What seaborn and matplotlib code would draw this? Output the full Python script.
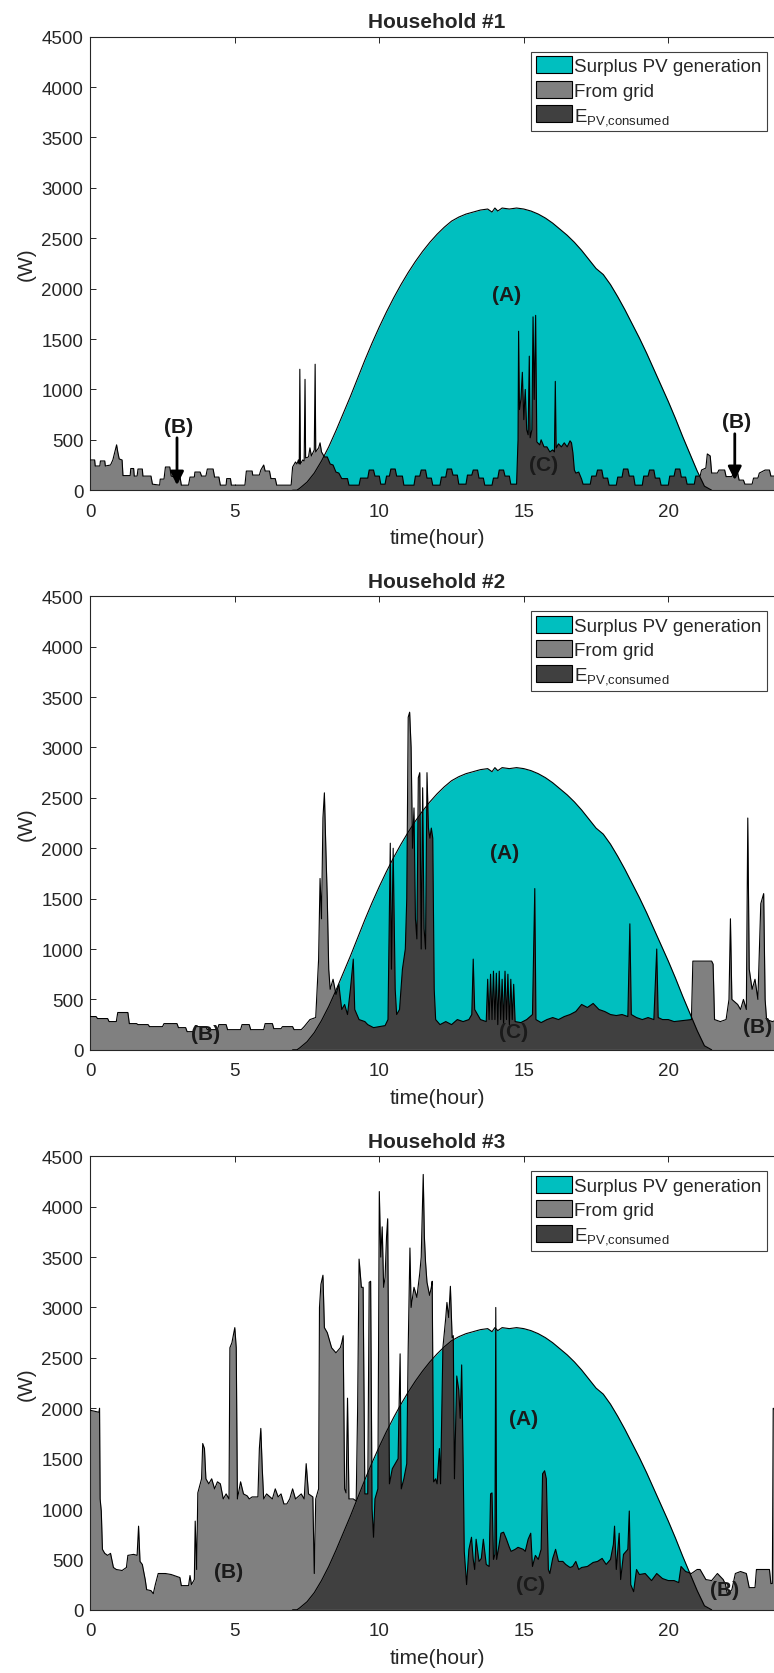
import matplotlib
matplotlib.use("Agg")
import matplotlib.pyplot as plt
import matplotlib.patches as mpatches
import seaborn as sns

# PV generation (same curve for every household), hour / W
PV_T = [7.0, 7.15, 7.25, 7.5, 7.75, 8.0, 8.25, 8.5, 8.75, 9.0, 9.25, 9.5, 9.75, 10.0, 10.25,
        10.5, 10.75, 11.0, 11.25, 11.5, 11.75, 12.0, 12.25, 12.5, 12.75, 13.0, 13.25, 13.5,
        13.75, 13.9, 14.0, 14.1, 14.25, 14.5, 14.75, 15.0, 15.25, 15.5, 15.75, 16.0, 16.25,
        16.5, 16.75, 17.0, 17.25, 17.5, 17.75, 18.0, 18.25, 18.5, 18.75, 19.0, 19.25, 19.5,
        19.75, 20.0, 20.25, 20.5, 20.75, 21.0, 21.25, 21.5]
PV_W = [0, 0, 20, 80, 170, 290, 430, 590, 760, 930, 1110, 1290, 1460, 1620, 1770,
        1910, 2040, 2160, 2270, 2370, 2460, 2540, 2610, 2670, 2710, 2740, 2760, 2780,
        2790, 2760, 2800, 2770, 2800, 2790, 2800, 2790, 2770, 2740, 2700, 2650, 2590,
        2530, 2460, 2380, 2290, 2200, 2140, 2040, 1920, 1790, 1650, 1510, 1360, 1200,
        1040, 880, 710, 530, 360, 190, 40, 0]

# household load profiles, hour / W
H1_T = [0.0, 0.15, 0.17, 0.33, 0.35, 0.5, 0.52, 0.7, 0.78, 0.85, 0.91, 0.95, 1.0, 1.1, 1.13,
        1.38, 1.4, 1.5, 1.52, 1.62, 1.65, 1.8, 1.82, 2.1, 2.15, 2.4, 2.42, 2.55, 2.6, 2.75,
        2.8, 2.95, 3.1, 3.15, 3.4, 3.45, 3.6, 3.62, 3.8, 3.85, 4.0, 4.05, 4.25, 4.3, 4.45,
        4.5, 4.7, 4.72, 4.85, 4.88, 5.35, 5.4, 5.6, 5.62, 5.85, 5.9, 6.0, 6.05, 6.2, 6.25,
        6.4, 6.45, 6.95, 7.0, 7.1, 7.15, 7.2, 7.23, 7.25, 7.27, 7.35, 7.4, 7.43, 7.45, 7.55,
        7.6, 7.65, 7.75, 7.78, 7.8, 7.9, 7.95, 8.0, 8.1, 8.2, 8.3, 8.4, 8.5, 8.6, 8.7,
        8.9, 8.95, 9.3, 9.35, 9.6, 9.65, 9.8, 9.85, 10.0, 10.05, 10.2, 10.25, 10.35, 10.4,
        10.55, 10.6, 10.8, 10.85, 11.2, 11.25, 11.4, 11.45, 11.6, 11.65, 11.8, 11.85, 12.1,
        12.15, 12.3, 12.35, 12.5, 12.55, 12.7, 12.75, 13.0, 13.05, 13.2, 13.25, 13.4, 13.45,
        13.6, 13.65, 13.9, 13.95, 14.1, 14.15, 14.3, 14.35, 14.5, 14.55, 14.75, 14.8, 14.82,
        14.85, 14.9, 14.95, 15.0, 15.05, 15.1, 15.15, 15.19, 15.22, 15.28, 15.32, 15.36,
        15.41, 15.45, 15.55, 15.6, 15.7, 15.8, 15.9, 16.0, 16.06, 16.09, 16.12, 16.2, 16.3,
        16.4, 16.5, 16.6, 16.65, 16.7, 16.75, 16.8, 16.9, 17.0, 17.05, 17.3, 17.35, 17.5,
        17.55, 17.7, 17.75, 17.9, 17.95, 18.2, 18.25, 18.4, 18.45, 18.6, 18.65, 18.8, 18.85,
        19.1, 19.15, 19.3, 19.35, 19.5, 19.55, 19.7, 19.75, 20.0, 20.05, 20.2, 20.25, 20.4,
        20.45, 20.6, 20.65, 20.9, 20.95, 21.1, 21.15, 21.3, 21.35, 21.45, 21.5, 21.7, 21.75,
        21.95, 22.0, 22.2, 22.25, 22.4, 22.45, 22.6, 22.65, 22.9, 22.95, 23.1, 23.15, 23.35,
        23.5, 23.55, 23.75, 23.8, 24.0]
H1_W = [300, 300, 240, 240, 290, 290, 240, 250, 300, 380, 450, 380, 310, 300, 145,
        145, 215, 215, 140, 140, 210, 210, 140, 140, 60, 50, 110, 110, 230, 230,
        140, 130, 140, 50, 50, 130, 130, 180, 180, 140, 140, 210, 210, 130, 130,
        50, 50, 115, 115, 50, 50, 190, 190, 150, 150, 200, 250, 190, 190, 115,
        115, 50, 50, 230, 280, 260, 300, 260, 1200, 260, 300, 290, 1100, 320, 330,
        420, 340, 400, 1250, 380, 420, 470, 380, 330, 330, 260, 250, 180, 170, 115,
        115, 50, 50, 120, 120, 200, 200, 140, 140, 60, 60, 140, 140, 210,
        210, 140, 140, 50, 50, 140, 140, 200, 200, 120, 120, 50, 50,
        130, 130, 210, 210, 150, 150, 60, 60, 150, 150, 200, 200, 120,
        120, 50, 50, 120, 120, 200, 200, 140, 140, 60, 60, 500, 1577,
        800, 900, 1170, 700, 1000, 600, 550, 1330, 520, 600, 1720, 900,
        1735, 480, 450, 500, 430, 430, 380, 400, 380, 1080, 420, 460, 430,
        470, 430, 490, 470, 370, 200, 170, 180, 110, 60, 60, 140, 140,
        200, 200, 120, 120, 50, 50, 130, 130, 210, 210, 140, 140, 50,
        50, 140, 140, 200, 200, 120, 120, 50, 50, 140, 140, 210, 210,
        130, 130, 60, 60, 140, 140, 200, 220, 360, 340, 170, 170, 200,
        200, 135, 135, 170, 170, 100, 100, 60, 60, 120, 120, 170, 200,
        200, 140, 140, 200, 200]

H2_T = [0.0, 0.2, 0.25, 0.6, 0.65, 0.9, 0.95, 1.3, 1.35, 1.6, 1.65, 2.0, 2.05, 2.5, 2.55,
        3.0, 3.05, 3.3, 3.35, 3.6, 3.65, 4.0, 4.05, 4.4, 4.45, 4.7, 4.75, 5.2, 5.25, 5.5,
        5.55, 6.0, 6.05, 6.3, 6.35, 6.6, 6.65, 7.0, 7.05, 7.3, 7.4, 7.6, 7.8, 7.9, 7.95,
        8.0, 8.05, 8.1, 8.15, 8.2, 8.25, 8.3, 8.4, 8.5, 8.6, 8.7, 8.8, 8.9, 9.0, 9.1, 9.15,
        9.3, 9.5, 9.6, 9.8, 10.0, 10.2, 10.3, 10.38, 10.42, 10.48, 10.55, 10.6, 10.7, 10.8,
        10.9, 10.95, 11.0, 11.05, 11.1, 11.15, 11.2, 11.25, 11.3, 11.35, 11.4, 11.45, 11.5,
        11.55, 11.6, 11.65, 11.7, 11.75, 11.8, 11.85, 11.9, 11.95, 12.1, 12.3, 12.5, 12.7,
        12.9, 13.1, 13.2, 13.25, 13.3, 13.5, 13.7, 13.75, 13.8, 13.85, 13.9, 13.95, 14.0,
        14.05, 14.1, 14.15, 14.2, 14.25, 14.3, 14.35, 14.4, 14.45, 14.5, 14.55, 14.6, 14.65,
        14.7, 14.9, 15.1, 15.3, 15.38, 15.42, 15.6, 15.8, 16.0, 16.2, 16.4, 16.6, 16.8,
        17.0, 17.2, 17.4, 17.6, 17.8, 18.0, 18.2, 18.4, 18.6, 18.67, 18.72, 18.9, 19.1,
        19.3, 19.5, 19.6, 19.65, 19.8, 20.0, 20.2, 20.5, 20.8, 20.85, 21.5, 21.55, 21.6,
        21.8, 22.0, 22.1, 22.15, 22.2, 22.4, 22.5, 22.6, 22.7, 22.75, 22.8, 22.9, 23.0,
        23.1, 23.2, 23.3, 23.35, 23.4, 23.6, 23.8, 24.0]
H2_W = [330, 330, 310, 310, 280, 280, 370, 370, 260, 260, 250, 250, 230, 230, 260,
        260, 220, 220, 180, 180, 230, 230, 200, 200, 250, 250, 200, 200, 250, 250,
        200, 200, 260, 260, 210, 210, 230, 230, 200, 200, 230, 300, 320, 900, 1700,
        1300, 2300, 2550, 2000, 1500, 800, 600, 700, 550, 650, 400, 450, 350, 600, 900, 400,
        300, 280, 250, 220, 230, 240, 300, 2050, 800, 2000, 600, 350, 400, 800,
        1000, 1500, 3300, 3350, 3000, 2000, 2400, 1300, 1100, 2700, 2750, 1000, 2600,
        1200, 1000, 2750, 2200, 2100, 2200, 2100, 600, 300, 250, 280, 250, 300,
        280, 300, 350, 900, 400, 300, 280, 700, 300, 750, 300, 780, 300,
        760, 250, 780, 300, 700, 250, 780, 300, 750, 250, 700, 300, 650,
        280, 270, 300, 350, 1600, 300, 270, 300, 320, 300, 330, 350, 380,
        450, 420, 460, 400, 380, 350, 340, 350, 330, 1250, 350, 320, 300,
        320, 300, 1000, 320, 300, 300, 280, 290, 300, 880, 880, 850, 300,
        280, 300, 500, 1300, 500, 450, 400, 500, 400, 2300, 800, 600, 700,
        500, 1450, 1550, 500, 300, 280, 300, 300]

H3_T = [0.0, 0.3, 0.32, 0.34, 0.38, 0.42, 0.5, 0.6, 0.7, 0.8, 0.9, 1.1, 1.25, 1.3, 1.5,
        1.62, 1.67, 1.72, 1.8, 1.9, 1.95, 2.1, 2.18, 2.25, 2.35, 2.6, 2.8, 3.0, 3.1, 3.15,
        3.4, 3.45, 3.5, 3.6, 3.63, 3.68, 3.72, 3.85, 3.89, 3.95, 4.0, 4.1, 4.2, 4.3, 4.4,
        4.5, 4.6, 4.7, 4.8, 4.83, 4.9, 5.0, 5.05, 5.09, 5.2, 5.3, 5.43, 5.5, 5.6, 5.8,
        5.85, 5.9, 5.95, 6.0, 6.1, 6.3, 6.4, 6.5, 6.6, 6.7, 6.8, 6.9, 7.0, 7.1, 7.3, 7.4,
        7.47, 7.55, 7.7, 7.75, 7.8, 7.9, 7.93, 7.98, 8.05, 8.1, 8.2, 8.35, 8.5, 8.65, 8.7,
        8.75, 8.8, 8.85, 8.9, 8.95, 9.1, 9.2, 9.25, 9.3, 9.38, 9.44, 9.5, 9.6, 9.65, 9.7,
        9.75, 9.8, 9.85, 9.95, 10.0, 10.05, 10.1, 10.15, 10.2, 10.25, 10.29, 10.35, 10.45,
        10.55, 10.65, 10.72, 10.76, 10.85, 10.95, 11.0, 11.06, 11.1, 11.14, 11.2, 11.3,
        11.4, 11.45, 11.52, 11.56, 11.6, 11.65, 11.74, 11.8, 11.83, 11.88, 11.95, 12.0,
        12.08, 12.12, 12.2, 12.3, 12.34, 12.4, 12.46, 12.52, 12.56, 12.6, 12.68, 12.75,
        12.8, 12.85, 12.9, 12.94, 13.02, 13.1, 13.19, 13.25, 13.3, 13.35, 13.45, 13.53,
        13.6, 13.7, 13.8, 13.85, 13.9, 13.95, 14.0, 14.03, 14.06, 14.12, 14.21, 14.3, 14.4,
        14.5, 14.56, 14.7, 14.8, 14.98, 15.05, 15.15, 15.24, 15.3, 15.4, 15.5, 15.6, 15.65,
        15.72, 15.78, 15.85, 15.9, 16.0, 16.1, 16.2, 16.35, 16.45, 16.6, 16.69, 16.8, 16.9,
        17.0, 17.2, 17.4, 17.55, 17.71, 17.85, 18.0, 18.1, 18.14, 18.2, 18.3, 18.35, 18.45,
        18.6, 18.65, 18.7, 18.8, 18.9, 19.0, 19.2, 19.42, 19.6, 19.8, 20.0, 20.2, 20.36,
        20.44, 20.6, 20.8, 21.0, 21.1, 21.3, 21.5, 21.7, 21.9, 21.98, 22.05, 22.2, 22.32,
        22.5, 22.7, 22.8, 23.0, 23.05, 23.3, 23.5, 23.55, 23.6, 23.63, 24.0]
H3_W = [1980, 1960, 2000, 1100, 980, 600, 560, 540, 560, 420, 400, 390, 420, 540, 550,
        540, 830, 480, 450, 300, 200, 190, 160, 250, 360, 360, 350, 330, 320, 240,
        240, 340, 250, 300, 880, 400, 1160, 1300, 1650, 1600, 1300, 1250, 1300, 1200, 1270,
        1250, 1100, 1150, 1100, 2600, 2650, 2800, 2600, 1100, 1270, 1150, 1130, 1100, 1120, 1120,
        1600, 1800, 1400, 1100, 1150, 1100, 1200, 1120, 1150, 1050, 1050, 1100, 1200, 1100, 1150, 1100,
        1450, 1150, 1120, 360, 1100, 1200, 3000, 3230, 3320, 2800, 2750, 2600, 2550, 2600, 2650,
        2720, 1200, 1160, 2100, 1100, 1100, 1080, 2000, 3480, 3200, 3200, 1150, 1150, 3250, 3260,
        1000, 720, 1100, 1200, 4150, 3500, 3800, 3200, 3300, 3700, 3880, 1250, 1400,
        1450, 1500, 2540, 1200, 1300, 1450, 2600, 3590, 3000, 3080, 3200, 3100,
        3340, 3500, 4320, 3700, 3450, 3250, 3120, 3200, 3260, 1270, 1300, 1250,
        1600, 1250, 2600, 2900, 3050, 2900, 3210, 2700, 2720, 1300, 2320, 2180,
        1900, 2430, 1500, 580, 250, 600, 720, 500, 400, 700, 480, 510,
        700, 450, 430, 1150, 1160, 500, 550, 3000, 500, 600, 760, 770, 700,
        620, 580, 600, 620, 600, 580, 700, 760, 430, 540, 500, 600, 1350,
        1380, 1300, 400, 360, 510, 600, 480, 480, 450, 420, 430, 480, 400,
        420, 430, 470, 480, 510, 450, 500, 650, 830, 400, 760, 300, 550,
        600, 980, 250, 180, 400, 350, 360, 290, 360, 310, 290, 290, 270,
        430, 380, 360, 400, 400, 300, 290, 360, 300, 250, 150, 200, 360,
        380, 360, 220, 220, 400, 400, 400, 260, 260, 2000, 1900]

TITLES = ["Household #1", "Household #2", "Household #3"]
LEGEND_LABELS = ["Surplus PV generation", "From grid", r"$\mathregular{E_{PV{,}consumed}}$"]

# annotation labels (text, hour, W)
LABELS_1 = [("(A)", 14.4, 1940), ("(B)", 3.05, 630), ("(B)", 22.35, 680), ("(C)", 15.67, 257)]
LABELS_2 = [("(A)", 14.35, 1960), ("(B)", 4.0, 160), ("(C)", 14.64, 180), ("(B)", 23.1, 230)]
LABELS_3 = [("(A)", 14.98, 1900), ("(B)", 4.78, 380), ("(C)", 15.24, 254), ("(B)", 21.95, 200)]
ARROWS_1 = [(3.0, 520, 3.0, 50), (22.3, 560, 22.3, 100)]

TEAL = "#00BFBF"
GREY = "#808080"
DARK = "#404040"

sns.set_theme(style="ticks")
plt.rcParams["font.family"] = ["Liberation Sans", "DejaVu Sans"]
plt.rcParams["mathtext.fontset"] = "custom"
plt.rcParams["mathtext.rm"] = "Liberation Sans"

fig = plt.figure(figsize=(7.74, 16.74), dpi=100)
left = 90.3 / 774
width = (783.9 - 90.3) / 774
tops = [37.7, 597.3, 1157.3]
height = 453.5 / 1674

loads = [(H1_T, H1_W), (H2_T, H2_W), (H3_T, H3_W)]
labels = [LABELS_1, LABELS_2, LABELS_3]

for i in range(3):
    bottom = 1 - (tops[i] + 453.5) / 1674
    ax = fig.add_axes([left, bottom, width, height])
    lt, lw = loads[i]

    # surplus PV, then load over it, then PV again clipped to the load area
    ax.fill_between(PV_T, PV_W, 0, color=TEAL, lw=0, zorder=1)
    load_poly = ax.fill_between(lt, lw, 0, color=GREY, lw=0, zorder=2)
    dark = ax.fill_between(PV_T, PV_W, 0, color=DARK, lw=0, zorder=3)
    dark.set_clip_path(load_poly.get_paths()[0], ax.transData)

    sns.lineplot(x=PV_T, y=PV_W, ax=ax, color="black", lw=0.8, sort=False,
                 estimator=None, zorder=4)
    sns.lineplot(x=lt, y=lw, ax=ax, color="black", lw=0.8, sort=False,
                 estimator=None, zorder=4)

    ax.set_xlim(0, 24)
    ax.set_ylim(0, 4500)
    ax.set_xticks([0, 5, 10, 15, 20])
    ax.set_yticks(range(0, 4501, 500))
    ax.tick_params(direction="in", length=4, width=0.7, colors="#262626",
                   labelsize=13.5, top=True, right=True)
    ax.tick_params(axis="x", pad=9)
    ax.tick_params(axis="y", pad=5)
    for sp in ax.spines.values():
        sp.set_visible(True)
        sp.set_linewidth(0.8)
        sp.set_color("#262626")
    ax.set_xlabel("time(hour)", fontsize=15, color="#262626", labelpad=6)
    ax.set_ylabel("(W)", fontsize=15, color="#262626", labelpad=4)
    ax.set_title(TITLES[i], fontsize=15, fontweight="bold", pad=7)

    for txt, x, y in labels[i]:
        ax.text(x, y, txt, fontsize=15, fontweight="bold", ha="center", va="center",
                color="#1a1a1a", zorder=6)
    if i == 0:
        for x0, y0, x1, y1 in ARROWS_1:
            ax.annotate("", xy=(x1, y1), xytext=(x0, y0), zorder=6,
                        arrowprops=dict(arrowstyle="-|>", color="black", lw=2,
                                        mutation_scale=20, shrinkA=0, shrinkB=0))

    handles = [mpatches.Patch(facecolor=c, edgecolor="black", lw=0.8)
               for c in [TEAL, GREY, DARK]]
    leg = ax.legend(handles, LEGEND_LABELS, loc="upper right",
                    bbox_to_anchor=(0.975, 0.967), fontsize=13.5, frameon=True,
                    fancybox=False, edgecolor="#404040", framealpha=1,
                    handlelength=1.9, handleheight=1.0, handletextpad=0.15,
                    labelspacing=0.3, borderpad=0.25, borderaxespad=0)
    leg.get_frame().set_linewidth(0.8)
    leg.set_zorder(10)

fig.savefig("out.png", dpi=100)
